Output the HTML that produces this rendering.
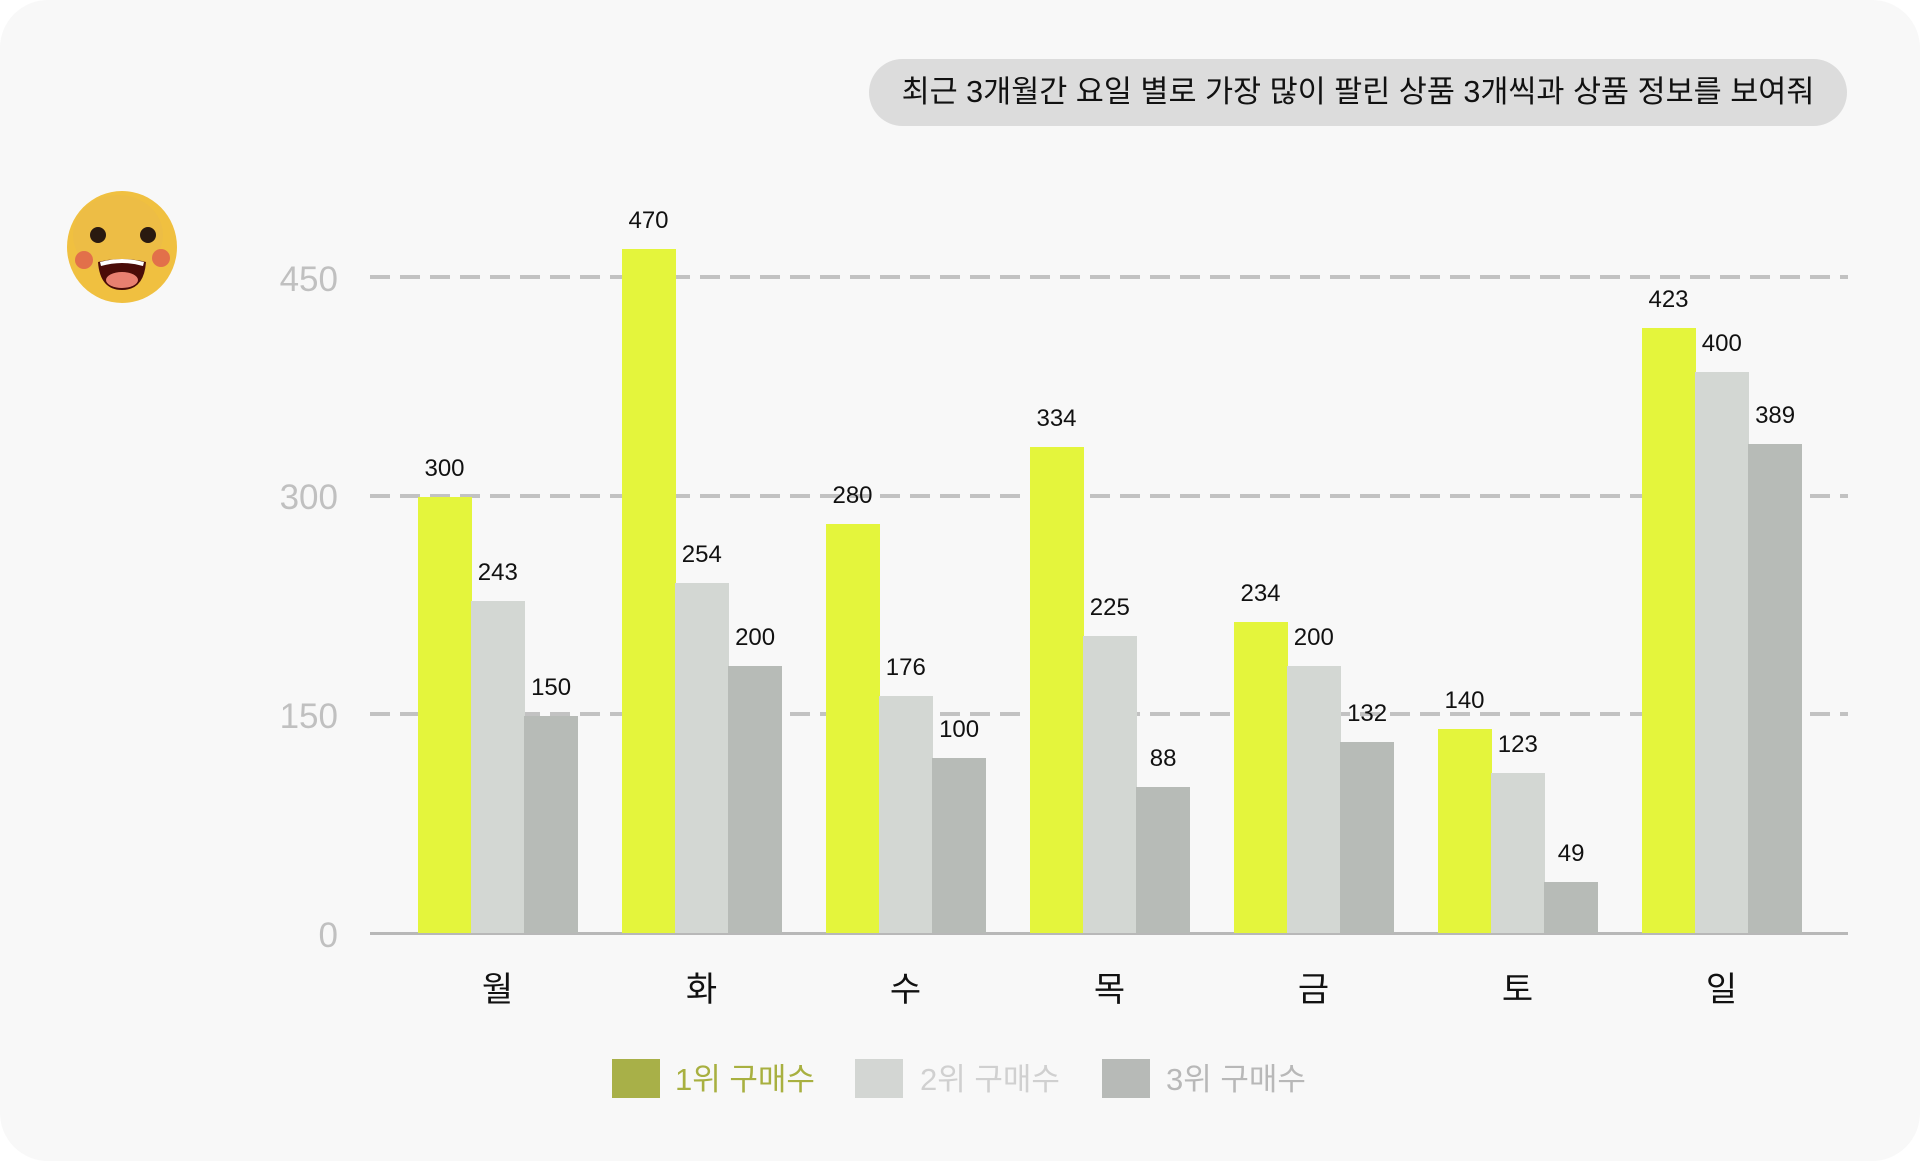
<!DOCTYPE html>
<html><head><meta charset="utf-8"><style>
body{margin:0;width:1920px;height:1163px;background:#fff;position:relative;overflow:hidden;font-family:"Liberation Sans","Noto Sans CJK KR",sans-serif}
.card{position:absolute;left:0;top:0;width:1920px;height:1161px;background:#f8f8f8;border-radius:48px}
.pill{position:absolute;left:869px;top:59px;width:978px;height:67px;background:#dcdcdc;border-radius:34px;font-size:30.5px;line-height:67px;text-align:center;color:#111;white-space:nowrap}
.yl{position:absolute;right:1582px;font-size:35px;color:#c0c0c0;transform:translateY(-50%)}
.grid{position:absolute;left:370px;width:1478px;height:4px;background:repeating-linear-gradient(90deg,#c2c2c2 0 20px,transparent 20px 30px)}
.bar{position:absolute;width:54px}
.lbl{position:absolute;width:80px;text-align:center;font-size:24px;color:#111;transform:translateY(-50%)}
.xl{position:absolute;width:100px;text-align:center;font-size:34px;color:#111;top:962px}
.sq{position:absolute;top:1059px;width:48px;height:39px}
.lt{position:absolute;top:1054px;font-size:31px}
</style></head><body>
<div class="card"></div>
<div class="pill">최근 3개월간 요일 별로 가장 많이 팔린 상품 3개씩과 상품 정보를 보여줘</div>
<svg style="position:absolute;left:66px;top:190px" width="112" height="114" viewBox="0 0 112 114">
<ellipse cx="56" cy="57" rx="55" ry="56" fill="#f0c040"/>
<ellipse cx="52" cy="45" rx="45" ry="40" fill="#e9b94a" opacity=".5"/>
<circle cx="32" cy="45" r="8" fill="#2a1a10"/><circle cx="82" cy="45" r="8" fill="#2a1a10"/>
<circle cx="18" cy="70" r="9" fill="#e2704a"/><circle cx="95" cy="68" r="9" fill="#e2704a"/>
<path d="M32 72 Q56 66 80 72 Q78 100 56 100 Q34 100 32 72Z" fill="#4a0c08"/>
<path d="M34 72 Q56 66 78 72 L77 76 Q56 70 35 76Z" fill="#fff"/>
<ellipse cx="56" cy="90" rx="16" ry="8" fill="#e88070"/>
</svg>
<div class="grid" style="top:275px"></div>
<div class="grid" style="top:494px"></div>
<div class="grid" style="top:712px"></div>
<div style="position:absolute;left:370px;top:932px;width:1478px;height:3px;background:#b8b8b8"></div>
<div class="yl" style="top:280px">450</div>
<div class="yl" style="top:498px">300</div>
<div class="yl" style="top:717px">150</div>
<div class="yl" style="top:936px">0</div>
<div id="bars"></div>
<div class="sq" style="left:612px;background:#a8b048"></div><div class="lt" style="left:675px;color:#a8b040">1위 구매수</div>
<div class="sq" style="left:855px;background:#d3d6d3"></div><div class="lt" style="left:920px;color:#d0d0d0">2위 구매수</div>
<div class="sq" style="left:1102px;background:#b7bab7"></div><div class="lt" style="left:1166px;color:#b8b8b8">3위 구매수</div>
<script>
var tops=[[497,601,716],[249,583,666],[524,696,758],[447,636,787],[622,666,742],[729,773,882],[328,372,444]];
var vals=[[300,243,150],[470,254,200],[280,176,100],[334,225,88],[234,200,132],[140,123,49],[423,400,389]];
var days=["월","화","수","목","금","토","일"];
var cols=["#e4f53c","#d3d7d3","#b7bbb7"];
var h="";
for(var g=0;g<7;g++){var x0=417.5+g*204;
for(var b=0;b<3;b++){var x=x0+b*53.3,t=tops[g][b];
h+='<div class="bar" style="left:'+x+'px;top:'+t+'px;height:'+(933-t)+'px;background:'+cols[b]+'"></div>';
h+='<div class="lbl" style="left:'+(x+27-40)+'px;top:'+(t-28)+'px">'+vals[g][b]+'</div>';}
h+='<div class="xl" style="left:'+(x0+80-50)+'px">'+days[g]+'</div>';}
document.getElementById("bars").innerHTML=h;
</script>
</body></html>
